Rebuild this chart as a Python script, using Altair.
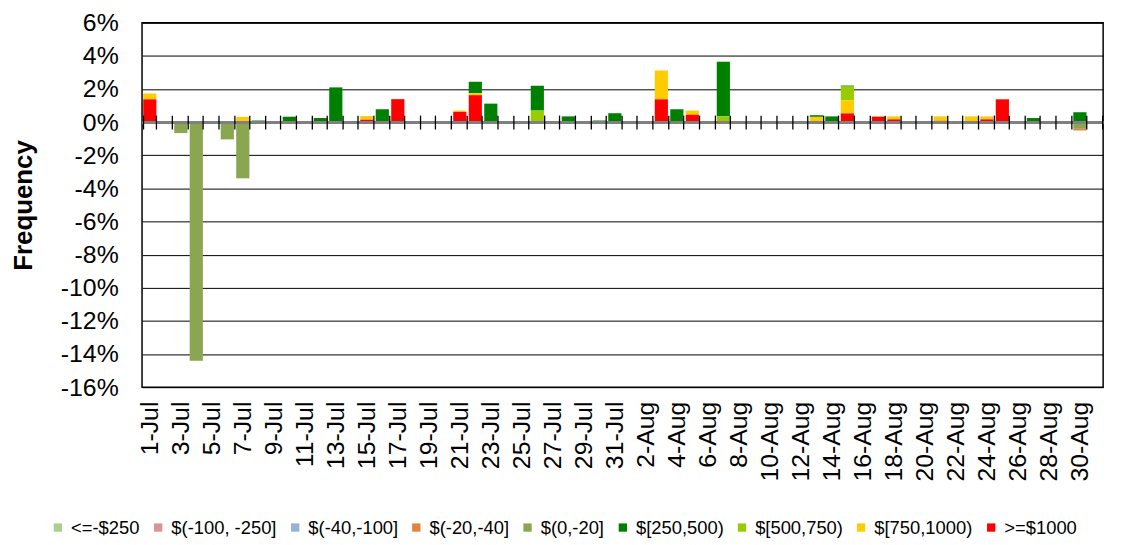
import altair as alt
import pandas as pd

FONT = "Liberation Sans"

dates = [f"{d}-Jul" for d in range(1, 32)] + [f"{d}-Aug" for d in range(1, 32)]

series_names = ["<=-$250", "$(-100, -250]", "$(-40,-100]", "$(-20,-40]", "$(0,-20]",
                "$[250,500)", "$[500,750)", "$[750,1000)", ">=$1000"]
series_colors = ["#A9D08E", "#D99594", "#95B3D7", "#E0843F", "#8BA650",
                 "#008000", "#99CC00", "#FFCC00", "#FF0000"]
# stacking order (nearest zero first)
stack_order = [8, 7, 6, 5, 4, 3, 2, 1, 0]

# values in percent, 1-Jul .. 31-Jul then 1-Aug .. 31-Aug
v_le_m250 = [0] * 62
v_m100_m250 = [0] * 62
v_m40_m100 = [0] * 62
v_m20_m40 = ([0] * 31 +
             [0, 0, 0, 0, 0, 0, 0, 0, 0, 0, 0, 0, 0, 0, 0, 0, 0, 0, 0, 0,
              0, 0, 0, 0, 0, 0, 0, 0, 0, -0.1, 0])
v_0_m20 = ([0, 0, -0.66, -14.4, 0, -1.04, -3.39, 0, 0, 0, 0, 0, 0, 0, 0, 0, 0, 0, 0, 0,
            0, 0, 0, 0, 0, 0, 0, 0, 0, 0, 0] +
           [0, 0, 0, 0, 0, 0, 0, 0, 0, 0, -0.06, 0, 0, 0, 0, 0, 0, 0, 0, 0,
            0, 0, 0, 0, 0, 0, 0, 0, 0, -0.4, 0])
v_250_500 = ([0, 0, 0, 0, 0, 0, 0, 0.1, 0, 0.33, 0, 0.25, 2.1, 0, 0, 0.78, 0, 0, 0, 0,
              0, 0.69, 1.12, 0, 0, 1.5, 0, 0.35, 0, 0.1, 0.54] +
             [0, 0, 0, 0.78, 0, 0, 3.3, 0, 0, 0, 0, 0, 0.1, 0.35, 0.06, 0, 0, 0, 0, 0,
              0, 0, 0, 0, 0, 0, 0.25, 0, 0, 0.6, 0])
v_500_750 = ([0, 0, 0, 0, 0, 0, 0, 0, 0, 0, 0, 0, 0, 0, 0, 0, 0, 0, 0, 0,
              0, 0, 0, 0, 0, 0.7, 0, 0, 0, 0, 0] +
             [0, 0, 0, 0, 0, 0, 0.35, 0, 0, 0, 0, 0, 0, 0, 0.83, 0, 0, 0, 0, 0,
              0, 0, 0, 0, 0, 0, 0, 0, 0, 0, 0])
v_750_1000 = ([0.35, 0, 0, 0, 0, 0, 0.32, 0, 0, 0, 0, 0, 0, 0, 0.22, 0, 0, 0, 0, 0,
               0.08, 0.12, 0, 0, 0, 0, 0, 0, 0, 0, 0] +
              [0, 0, 1.74, 0, 0.25, 0, 0, 0, 0, 0, 0, 0, 0.32, 0, 0.79, 0, 0.03, 0.18, 0, 0,
               0.27, 0, 0.35, 0.18, 0, 0, 0, 0, 0, 0, 0])
v_ge_1000 = ([1.38, 0, 0, 0, 0, 0, 0, 0, 0, 0, 0, 0, 0, 0, 0.15, 0, 1.39, 0, 0, 0,
              0.62, 1.63, 0, 0, 0, 0, 0, 0, 0, 0, 0] +
             [0, 0, 1.38, 0, 0.45, 0, 0, 0, 0, 0, 0, 0, 0, 0, 0.53, 0, 0.33, 0.17, 0, 0,
              0.08, 0, 0, 0.17, 1.38, 0, 0, 0, 0, 0, 0])

series_values = [v_le_m250, v_m100_m250, v_m40_m100, v_m20_m40, v_0_m20,
                 v_250_500, v_500_750, v_750_1000, v_ge_1000]

y_ticks = list(range(-16, 7, 2))

rows = []
for name, vals, o in zip(series_names, series_values, stack_order):
    for d, v in zip(dates, vals):
        if v != 0:
            rows.append({"date": d, "series": name, "value": v, "ord": o})
df = pd.DataFrame(rows)
dates_df = pd.DataFrame({"date": dates})

xscale = alt.Scale(domain=dates, paddingInner=0.15, paddingOuter=0.075)
yscale = alt.Scale(domain=[-16, 6], nice=False, zero=False)

y_axis = alt.Axis(
    values=y_ticks, labelExpr="datum.value + '%'", labelFontSize=25,
    labelPadding=24, ticks=False, domain=False, grid=True, gridColor="black",
    gridWidth=1, title="Frequency", titleFontSize=26, titleFontWeight="bold",
    titlePadding=24, labelColor="black", titleColor="black", labelFont=FONT,
    titleFont=FONT, labelOverlap=False)

bars = alt.Chart(df).mark_bar().encode(
    x=alt.X("date:N", scale=xscale, axis=alt.Axis(
        orient="bottom", values=dates[::2], labelAngle=-90, labelFontSize=25,
        labelPadding=14, ticks=False, domain=False, grid=False, title=None,
        labelColor="black", labelFont=FONT, labelOverlap=False)),
    y=alt.Y("value:Q", stack="zero", scale=yscale, axis=y_axis),
    color=alt.Color("series:N", scale=alt.Scale(domain=series_names, range=series_colors),
                    legend=alt.Legend(orient="none", legendX=-94, legendY=499,
                                      direction="horizontal", columns=9,
                                      symbolType="square", symbolSize=70,
                                      labelFontSize=18.5, labelOffset=4, columnPadding=9,
                                      title=None, symbolStrokeWidth=0, padding=0,
                                      labelColor="black", labelFont=FONT)),
    order=alt.Order("ord:Q"),
)

zero_line = alt.Chart(dates_df).mark_rule(color="#808080", strokeWidth=2).encode(
    y=alt.Y(datum=0, type="quantitative", scale=yscale, axis=y_axis)
)

tick_axis = alt.Chart(dates_df).mark_point(opacity=0).encode(
    x=alt.X("date:N", scale=xscale, axis=alt.Axis(
        orient="top", offset=-107, tickSize=14, tickBand="extent", labels=False,
        domain=False, grid=False, title=None, tickColor="black", tickWidth=1.3,
        zindex=1)),
)

chart = alt.layer(bars, zero_line, tick_axis).resolve_axis(x="independent").properties(
    width=968, height=367,
    padding={"left": 135, "top": 13, "right": 18, "bottom": 150},
    autosize=alt.AutoSizeParams(type="none"),
).configure(font=FONT).configure_view(stroke="black", strokeWidth=1.5)

chart.save("out.html", embed_options={"renderer": "svg", "actions": False})
